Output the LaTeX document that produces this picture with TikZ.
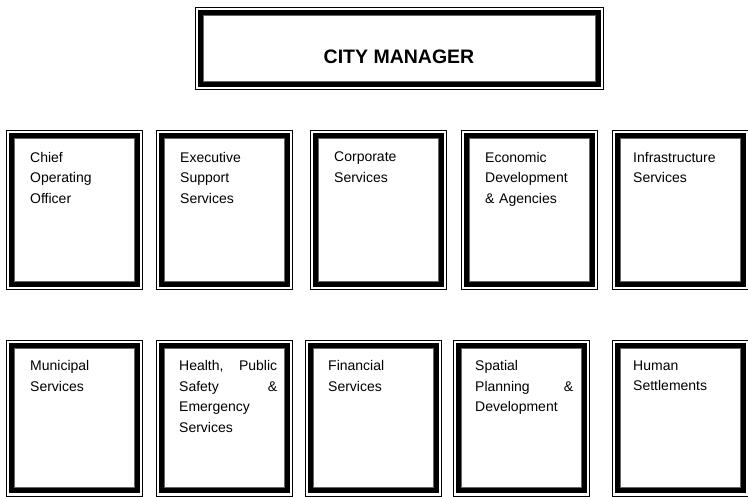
\documentclass[tikz,border=0pt]{standalone}
\usepackage{fontspec}
\setmainfont{Liberation Sans}
\begin{document}
\begin{tikzpicture}[x=1pt,y=-1pt,
  frame/.style={draw=black, line width=0.8pt, inner sep=0pt, anchor=north west,
    minimum width=#1},
  frame/.default=136pt,
  unittxt/.style={anchor=north west, inner sep=0pt, text width=98pt, align=left,
    font=\fontsize{14}{20.5}\selectfont},
  titletxt/.style={anchor=base, inner sep=0pt, font=\bfseries\fontsize{19.5}{22}\selectfont}
]
\clip (0,0) rectangle (748,497);
\useasboundingbox (0,0) rectangle (748,497);
% city manager
\node[frame=408pt, minimum height=82pt] (cm) at (195,7) {};
\node[titletxt] (cmt) at (399,64) {CITY MANAGER};
% row 1
\node[frame, minimum height=159.5pt] (a1) at (6,130) {};
\node[frame, minimum height=159.5pt] (a2) at (156,130) {};
\node[frame, minimum height=159.5pt] (a3) at (310,130) {};
\node[frame, minimum height=159.5pt] (a4) at (461,130) {};
\node[frame, minimum height=159.5pt] (a5) at (612,130) {};
% row 2
\node[frame, minimum height=155.5pt] (b1) at (6,340) {};
\node[frame, minimum height=155.5pt] (b2) at (156,340) {};
\node[frame, minimum height=155.5pt] (b3) at (305,340) {};
\node[frame, minimum height=155.5pt] (b4) at (453,340) {};
\node[frame, minimum height=155.5pt] (b5) at (612,340) {};
% thick inner frames
\foreach \n in {cm,a1,a2,a3,a4,a5,b1,b2,b3,b4,b5}{
  \draw[line width=5pt] ([xshift=5.6pt,yshift=-5.6pt]\n.north west) rectangle ([xshift=-5.6pt,yshift=5.6pt]\n.south east);
  \draw[line width=0.5pt, black!60] ([xshift=8.6pt,yshift=-8.6pt]\n.north west) rectangle ([xshift=-8.6pt,yshift=8.6pt]\n.south east);
}
% texts row 1
\node[unittxt] (ta1) at ([xshift=24pt,yshift=-22pt]a1.north west) {Chief\\Operating\\Officer};
\node[unittxt] (ta2) at ([xshift=24pt,yshift=-22pt]a2.north west) {Executive\\Support\\Services};
\node[unittxt] (ta3) at ([xshift=24pt,yshift=-22pt]a3.north west) {Corporate\\Services};
\node[unittxt] (ta4) at ([xshift=24pt,yshift=-22pt]a4.north west) {Economic\\Development\\\& Agencies};
\node[unittxt] (ta5) at ([xshift=21pt,yshift=-22pt]a5.north west) {Infrastructure\\Services};
% texts row 2
\node[unittxt] (tb1) at ([xshift=24pt,yshift=-20.5pt]b1.north west) {Municipal\\Services};
\node[unittxt] (tb2) at ([xshift=23pt,yshift=-20.5pt]b2.north west) {Health,\hfill Public\\Safety\hfill\&\\Emergency\\Services};
\node[unittxt] (tb3) at ([xshift=23pt,yshift=-20.5pt]b3.north west) {Financial\\Services};
\node[unittxt] (tb4) at ([xshift=22pt,yshift=-20.5pt]b4.north west) {Spatial\\Planning\hfill\&\\Development};
\node[unittxt] (tb5) at ([xshift=21pt,yshift=-20.5pt]b5.north west) {Human\\Settlements};
\end{tikzpicture}
\end{document}
